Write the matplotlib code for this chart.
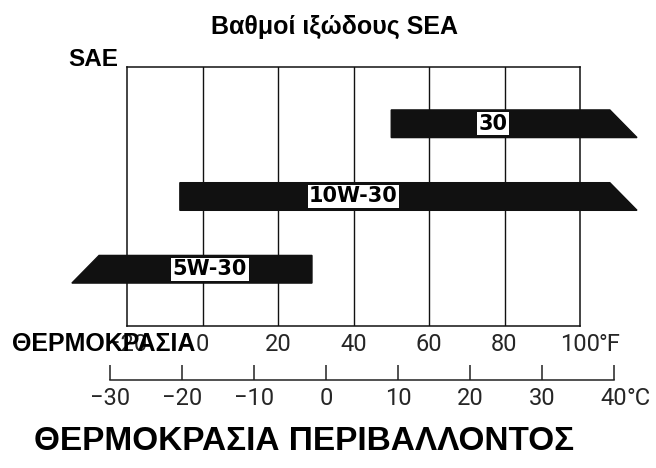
import matplotlib
matplotlib.use('Agg')
import matplotlib.pyplot as plt
from matplotlib.patches import Polygon

# ---- data -------------------------------------------------------------
grades = ["30", "10W-30", "5W-30"]
row_pos = [3, 2, 1]
low_F = [50, -6, -31]        # lower limit of each grade (°F)
high_F = [111.5, 111.5, 29]  # upper limit of each grade (°F)
label_F = [77, 40, 2]        # where the grade label sits (°F)
open_low = [False, False, True]
open_high = [True, True, False]

f_ticks = [-20, 0, 20, 40, 60, 80, 100]
f_labels = ["−20", "0", "20", "40", "60", "80", "100"]
c_ticks = [-30, -20, -10, 0, 10, 20, 30, 40]
c_labels = ["−30", "−20", "−10", "0", "10", "20", "30", "40"]

title = "Βαθμοί ιξώδους SEA"
ylabel = "SAE"
xlabel = "ΘΕΡΜΟΚΡΑΣΙΑ"
bottom_title = "ΘΕΡΜΟΚΡΑΣΙΑ ΠΕΡΙΒΑΛΛΟΝΤΟΣ"

# ---- figure -----------------------------------------------------------
W, H = 656, 468
fig = plt.figure(figsize=(W / 100, H / 100), dpi=100)
bold = dict(family=['Liberation Sans', 'DejaVu Sans'], fontweight='bold')
lbl = dict(family=['DejaVu Sans'], fontweight='bold')
thin = dict(family=['Roboto', 'DejaVu Sans'], fontweight='normal', color='#262626')
tick_fs = 17

def fx(px):
    return px / W

def fy(py):
    return 1 - py / H

# main (Fahrenheit) axes
ax = fig.add_axes([fx(127), fy(326), fx(580) - fx(127), fy(67) - fy(326)])
ax.set_xlim(-20, 100)
ax.set_ylim(0.22, 3.78)
for s in ax.spines.values():
    s.set_linewidth(1.1)
    s.set_color('#111111')
ax.set_yticks([])
ax.set_xticks(f_ticks)
ax.set_xticklabels(f_labels, fontsize=tick_fs, **thin)
ax.tick_params(axis='x', length=0, pad=5)
for t in f_ticks[1:-1]:
    ax.axvline(t, color='#111111', lw=1.0, zorder=1)
ax.annotate("°F", xy=(100, 0), xycoords=('data', 'axes fraction'),
            xytext=(13, -5), textcoords='offset points', ha='left', va='top',
            fontsize=tick_fs, **thin)

half_h = 0.19
slant = 3.6
for g, y, lo, hi, lx, ol, oh in zip(grades, row_pos, low_F, high_F, label_F,
                                     open_low, open_high):
    lt, lb = (lo + slant, lo - slant) if ol else (lo, lo)
    rt, rb = (hi - slant, hi + slant) if oh else (hi, hi)
    poly = Polygon([(lb, y - half_h), (lt, y + half_h), (rt, y + half_h), (rb, y - half_h)],
                   closed=True, facecolor='#111111', edgecolor='#111111',
                   clip_on=False, zorder=3)
    ax.add_patch(poly)
    ax.text(lx, y, g, ha='center', va='center', fontsize=15, zorder=4,
            bbox=dict(facecolor='white', edgecolor='none', pad=1.0), **lbl)

# Celsius scale
axc = fig.add_axes([fx(110), fy(380), fx(614) - fx(110), fy(365) - fy(380)])
axc.set_xlim(-30, 40)
axc.set_ylim(0, 1)
for k in ['top', 'left', 'right']:
    axc.spines[k].set_visible(False)
axc.spines['bottom'].set_linewidth(1.1)
axc.spines['bottom'].set_color('#222222')
axc.set_yticks([])
axc.set_xticks(c_ticks)
axc.set_xticklabels(c_labels, fontsize=tick_fs, **thin)
axc.tick_params(axis='x', direction='in', length=11, width=1.1, color='#222222', pad=5)
axc.patch.set_alpha(0)
axc.annotate("°C", xy=(40, 0), xycoords=('data', 'axes fraction'),
             xytext=(9, -5), textcoords='offset points', ha='left', va='top',
             fontsize=tick_fs, **thin)

# texts
fig.text(fx(335), fy(27), title, ha='center', va='center', fontsize=18, **bold)
fig.text(fx(68), fy(60), ylabel, ha='left', va='center', fontsize=17.5, **bold)
fig.text(fx(12), fy(344), xlabel, ha='left', va='center', fontsize=18, zorder=10, **bold)
fig.text(fx(304), fy(441), bottom_title, ha='center', va='center', fontsize=24, **bold)

fig.savefig('out.png', dpi=100, facecolor='white')
